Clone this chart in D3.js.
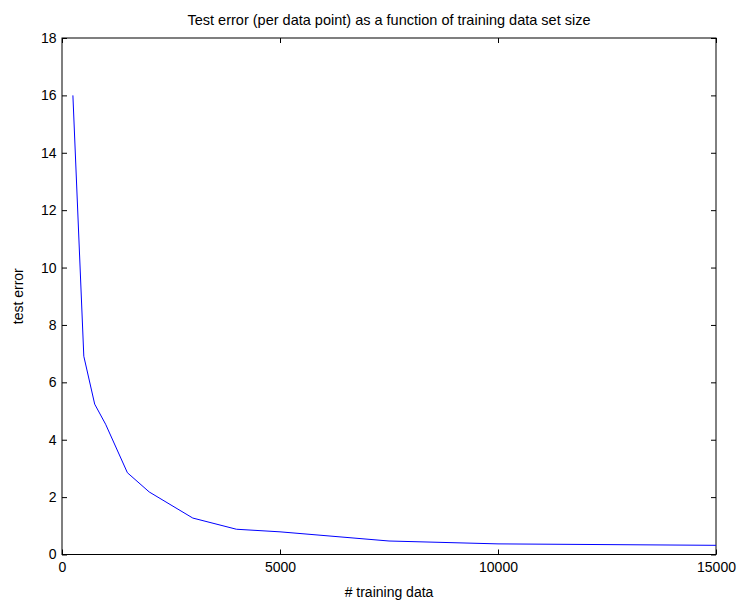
<!DOCTYPE html>
<html><head><meta charset="utf-8">
<script src="https://cdn.jsdelivr.net/npm/d3@7"></script>
<style>body{margin:0;background:#fff;} svg{display:block;} text{font-family:"Liberation Sans",Arial,sans-serif;}</style>
</head><body>
<script>
const trainingSize = [250, 500, 750, 1000, 1500, 2000, 3000, 4000, 5000, 7500, 10000, 15000];
const testError = [16.0, 6.91, 5.24, 4.54, 2.85, 2.18, 1.27, 0.88, 0.79, 0.47, 0.37, 0.32];
const xTicks = [0, 5000, 10000, 15000];
const yTicks = [0, 2, 4, 6, 8, 10, 12, 14, 16, 18];
const title = "Test error (per data point) as a function of training data set size";
const xLabel = "# training data";
const yLabel = "test error";

const W = 737, H = 602;
const m = {left: 62, right: 21, top: 38, bottom: 47.5};
const svg = d3.select("body").append("svg").attr("width", W).attr("height", H);
const x = d3.scaleLinear().domain([0, 15000]).range([m.left, W - m.right]);
const y = d3.scaleLinear().domain([0, 18]).range([H - m.bottom, m.top]);
const tick = 5;

function style(g){
  g.select(".domain").remove();
  g.selectAll("line").attr("stroke", "#000");
}
// bottom
svg.append("g").attr("transform", `translate(0,${y(0)})`)
  .call(d3.axisBottom(x).tickValues(xTicks).tickFormat(d3.format("d")).tickSizeInner(-tick).tickSizeOuter(0).tickPadding(8))
  .call(style).call(g => g.selectAll("text").attr("font-size", 14).attr("fill", "#000"));
// top
svg.append("g").attr("transform", `translate(0,${y(18)})`)
  .call(d3.axisTop(x).tickValues(xTicks).tickFormat("").tickSizeInner(-tick).tickSizeOuter(0))
  .call(style);
// left
svg.append("g").attr("transform", `translate(${x(0)},0)`)
  .call(d3.axisLeft(y).tickValues(yTicks).tickFormat(d3.format("d")).tickSizeInner(-tick).tickSizeOuter(0).tickPadding(5.5))
  .call(style).call(g => g.selectAll("text").attr("font-size", 14).attr("fill", "#000"));
// right
svg.append("g").attr("transform", `translate(${x(15000)},0)`)
  .call(d3.axisRight(y).tickValues(yTicks).tickFormat("").tickSizeInner(-tick).tickSizeOuter(0))
  .call(style);

// frame
svg.append("rect").attr("x", x(0)).attr("y", y(18)).attr("width", x(15000) - x(0)).attr("height", y(0) - y(18))
  .attr("fill", "none").attr("stroke", "#000").attr("stroke-width", 1);

// line
svg.append("path").datum(trainingSize.map((d, i) => [d, testError[i]]))
  .attr("fill", "none").attr("stroke", "#0000ff").attr("stroke-width", 1)
  .attr("d", d3.line().x(d => x(d[0])).y(d => y(d[1])));

svg.append("text").attr("x", (x(0) + x(15000)) / 2).attr("y", 25).attr("text-anchor", "middle")
  .attr("font-size", 14.5).attr("fill", "#000").text(title);
svg.append("text").attr("x", (x(0) + x(15000)) / 2).attr("y", 597).attr("text-anchor", "middle")
  .attr("font-size", 14).attr("fill", "#000").text(xLabel);
svg.append("text").attr("transform", `translate(23,${(y(0) + y(18)) / 2}) rotate(-90)`).attr("text-anchor", "middle")
  .attr("font-size", 14).attr("fill", "#000").text(yLabel);
</script>
</body></html>
